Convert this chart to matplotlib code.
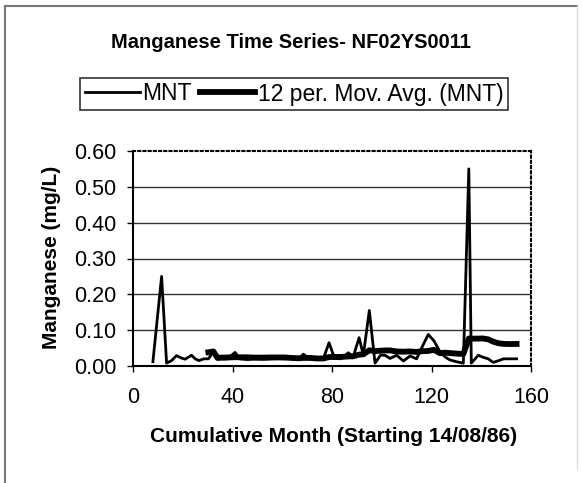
import matplotlib
matplotlib.use("Agg")
import matplotlib.pyplot as plt
import pandas as pd
from matplotlib.lines import Line2D

# Cumulative month of each sample and the measured manganese (mg/L)
months = [8, 11.5, 13.5, 15.5, 17.5, 19.5, 21, 23.5, 25, 26.5, 28.5, 30.3,
          32.3, 34, 35.6, 38, 41, 43, 46, 49, 52, 55, 58, 61, 64, 66.5,
          68.5, 71, 74, 76.5, 78.8, 81, 83.5, 86.6, 88.5, 90.9, 92.6, 95,
          97.3, 99.5, 101.3, 103.3, 106, 108.7, 111.4, 114, 116, 118.7, 121,
          123.4, 125.5, 127.4, 130, 132.8, 135, 136, 138.8, 140.5, 142.8,
          144.8, 147, 149, 151.5, 154.2]
mnt = [0.012, 0.25, 0.008, 0.015, 0.029, 0.022, 0.019, 0.03, 0.02, 0.015, 0.02, 0.02,
       0.04, 0.03, 0.02, 0.02, 0.038, 0.02, 0.018, 0.02, 0.019, 0.02, 0.021, 0.02, 0.022, 0.02,
       0.033, 0.02, 0.02, 0.02, 0.065, 0.022, 0.02, 0.037, 0.025, 0.079, 0.03, 0.155,
       0.008, 0.03, 0.03, 0.021, 0.03, 0.014, 0.028, 0.02, 0.05, 0.088, 0.07,
       0.04, 0.025, 0.017, 0.012, 0.008, 0.55, 0.008, 0.03, 0.025, 0.02,
       0.01, 0.015, 0.02, 0.02, 0.02]

x_ticks = [0, 40, 80, 120, 160]
y_ticks = [0.0, 0.1, 0.2, 0.3, 0.4, 0.5, 0.6]

mov_avg = pd.Series(mnt).rolling(12).mean()

plt.rcParams['font.family'] = ['Liberation Sans', 'DejaVu Sans']

fig = plt.figure(figsize=(5.82, 4.83), dpi=100)
ax = fig.add_axes([133 / 582, 1 - 366 / 483, 398 / 582, 215 / 483])

for y in y_ticks[1:-1]:
    ax.axhline(y, color='#333333', linewidth=1.0, zorder=1)

ax.plot(months, mnt, color='black', linewidth=2.0, zorder=3)
ax.plot(months, mov_avg, color='black', linewidth=4.2, zorder=2)

ax.set_xlim(0, 160)
ax.set_ylim(0, 0.6)
ax.set_xticks(x_ticks)
ax.set_xticklabels([str(t) for t in x_ticks])
ax.set_yticks(y_ticks)
ax.set_yticklabels([f"{t:.2f}" for t in y_ticks])
ax.tick_params(axis='both', direction='out', length=4, width=1, colors='black', labelsize=15.5)
ax.tick_params(axis='x', pad=11)
ax.tick_params(axis='y', pad=8)

for side in ['top', 'right']:
    ax.spines[side].set_linestyle((0, (1, 1.5)))
    ax.spines[side].set_linewidth(1.5)
for side in ['left', 'bottom']:
    ax.spines[side].set_linewidth(1.5)

fig.text(0.5, 1 - 42 / 483, "Manganese Time Series- NF02YS0011",
         ha='center', va='center', fontsize=14.5, fontweight='bold')
fig.text(52 / 582, 1 - 257.5 / 483, "Manganese (mg/L)", rotation=90,
         ha='center', va='center', fontsize=15, fontweight='bold')
fig.text(333.5 / 582, 1 - 437 / 483, "Cumulative Month (Starting 14/08/86)",
         ha='center', va='center', fontsize=15, fontweight='bold')

handles = [Line2D([], [], color='black', linewidth=2.0),
           Line2D([], [], color='black', linewidth=4.2)]
leg = fig.legend(handles, ['MNT', '12 per. Mov. Avg. (MNT)'], ncol=2,
                 loc='center', bbox_to_anchor=(294 / 582, 1 - 94 / 483),
                 fontsize=16.5, frameon=True, fancybox=False, handlelength=2.4,
                 handletextpad=0.1, columnspacing=0.4, borderpad=0.2,
                 borderaxespad=0)
leg.get_frame().set_edgecolor('black')
leg.get_frame().set_linewidth(1.2)

# outer chart frame
fig.add_artist(Line2D([5 / 582, 5 / 582], [0, 1 - 6 / 483], color='#777777', linewidth=1.5))
fig.add_artist(Line2D([5 / 582, 577 / 582], [1 - 6 / 483, 1 - 6 / 483], color='#777777', linewidth=1.5))
fig.add_artist(Line2D([577 / 582, 577 / 582], [0.03, 1 - 6 / 483], color='#dddddd', linewidth=1.0))

fig.savefig("out.png", dpi=100)
